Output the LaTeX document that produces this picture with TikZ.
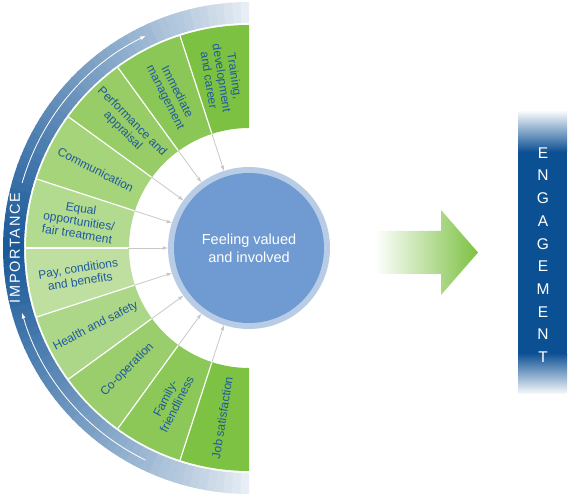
\documentclass[tikz,border=0pt]{standalone}
\usepackage{fontspec}
\setmainfont{Liberation Sans}
\usetikzlibrary{arrows}

\definecolor{bandblue}{RGB}{24,88,152}
\definecolor{barblue}{RGB}{12,80,148}
\definecolor{ringblue}{RGB}{184,204,230}
\definecolor{coreblue}{RGB}{112,155,210}
\definecolor{labelblue}{RGB}{30,90,158}
\definecolor{arrowgrey}{RGB}{200,200,200}
\definecolor{gA}{RGB}{125,193,67}
\definecolor{gB}{RGB}{139,199,86}
\definecolor{gC}{RGB}{151,204,102}
\definecolor{gD}{RGB}{165,212,123}
\definecolor{gE}{RGB}{179,219,144}
\definecolor{gF}{RGB}{190,223,160}
\definecolor{gG}{RGB}{173,215,136}
\definecolor{gH}{RGB}{154,206,108}
\definecolor{gI}{RGB}{140,200,88}
\definecolor{gJ}{RGB}{126,194,68}

\tikzset{
  seglabel/.style={text=labelblue, align=center, inner sep=0pt,
    font=\fontsize{12}{13}\selectfont},
  feed/.style={arrows={-latex}, draw=arrowgrey, line width=.8pt},
  letter/.style={text=white, inner sep=0pt, font=\fontsize{15.5}{15.5}\selectfont}
}

\begin{document}
\begin{tikzpicture}[x=1pt, y=1pt]
\useasboundingbox (-249,-252) rectangle (320,248);
%importance band
\foreach \a in {90,92,...,268}{
  \pgfmathtruncatemacro\shadepct{8+92*(1-abs(\a+1-180)/90)^0.8}
  \pgfmathsetmacro\e{min(\a+2.3,270)}
  \fill[bandblue!\shadepct!white] (\a:225) arc[start angle=\a, end angle=\e, radius=225]
    -- (\e:246) arc[start angle=\e, end angle=\a, radius=246] -- cycle;
}
\node[rotate=90, text=white, inner sep=0pt,
  font=\fontsize{14.5}{14.5}\selectfont\addfontfeatures{LetterSpace=12}] (imp) at (-234,0) {IMPORTANCE};
\draw[white, line width=.8pt, arrows={-latex}] (164:236) arc[start angle=164, end angle=116, radius=236];
\draw[white, line width=.8pt, arrows={-latex}] (244:236) arc[start angle=244, end angle=196, radius=236];
%segments
\foreach \a/\col in {90/gA,108/gB,126/gC,144/gD,162/gE,180/gF,198/gG,216/gH,234/gI,252/gJ}
  \fill[\col] (\a:120) arc[start angle=\a, end angle=\a+18, radius=120]
    -- (\a+18:223) arc[start angle=\a+18, end angle=\a, radius=223] -- cycle;
\foreach \a in {108,126,...,252}
  \draw[white, line width=1.2pt] (\a:120) -- (\a:223);
%centre
\node[circle, fill=ringblue, minimum size=162pt, inner sep=0pt, outer sep=0pt] (ring) at (0,0) {};
\node[circle, fill=coreblue, minimum size=150pt, inner sep=0pt, text=white, align=center,
  font=\fontsize{14.5}{18}\selectfont] (core) at (0,0) {Feeling valued\\and involved};
\foreach \ang/\txt [count=\i] in {99/{Training,\\development\\and career},
    117/{Immediate\\management}, 135/{Performance and\\appraisal}, 153/{Communication},
    171/{Equal\\opportunities/\\fair treatment}, 189/{Pay, conditions\\and benefits},
    207/{Health and safety}, 225/{Co-operation}, 243/{Family-\\friendliness},
    261/{Job satisfaction}}
  \node[seglabel, rotate=\ang-180] (lab\i) at (\ang:172) {\txt};
%feeding arrows
\foreach \a in {108,126,...,252}{
  \coordinate (b\a) at (\a:121);
  \draw[feed] (b\a) -- (ring.\a);
}
%big arrow
\shade[left color=white, right color=gA] (126,17) -- (192,17) -- (192,38) -- (229,-4.5)
  -- (192,-47) -- (192,-26) -- (126,-26) -- cycle;
%engagement bar
\shade[top color=barblue!5, bottom color=barblue] (269,136) rectangle (318,96);
\fill[barblue] (269,96.3) rectangle (318,-105.3);
\shade[top color=barblue, bottom color=barblue!5] (269,-105) rectangle (318,-145);
\foreach \l [count=\i] in {E,N,G,A,G,E,M,E,N,T}
  \node[letter] (eng\i) at (294,{95-22.67*(\i-1)}) {\l};
\end{tikzpicture}
\end{document}
